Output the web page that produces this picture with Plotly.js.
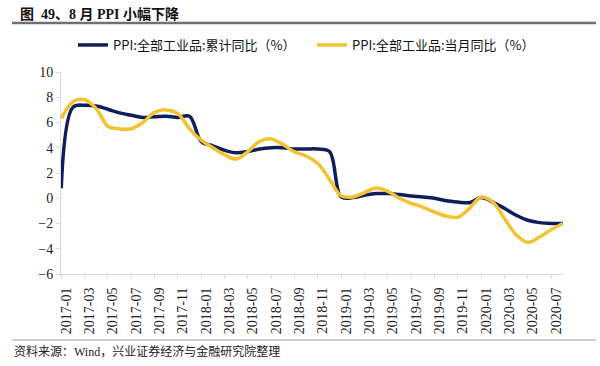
<!DOCTYPE html>
<html>
<head>
<meta charset="utf-8">
<script src="https://cdn.plot.ly/plotly-3.0.1.min.js"></script>
<style>
html,body{margin:0;padding:0;background:#fff;}
#chart{width:600px;height:366px;}
</style>
</head>
<body>
<div id="chart"></div>
<script>
// Months (categories)
const months = [
  "2017-01","2017-02","2017-03","2017-04","2017-05","2017-06","2017-07","2017-08","2017-09","2017-10","2017-11","2017-12",
  "2018-01","2018-02","2018-03","2018-04","2018-05","2018-06","2018-07","2018-08","2018-09","2018-10","2018-11","2018-12",
  "2019-01","2019-02","2019-03","2019-04","2019-05","2019-06","2019-07","2019-08","2019-09","2019-10","2019-11","2019-12",
  "2020-01","2020-02","2020-03","2020-04","2020-05","2020-06","2020-07","2020-08"
];
// PPI: all industrial products, cumulative YoY (%)
const ppiCumulative = [
  0.8, 7.2, 7.37, 7.3, 7.05, 6.76, 6.57, 6.4, 6.45, 6.5, 6.4, 6.5,
  4.5, 4.15, 3.8, 3.6, 3.7, 3.9, 4.0, 4.0, 3.9, 3.9, 3.9, 3.7,
  0.1, 0.05, 0.24, 0.37, 0.37, 0.29, 0.18, 0.1, 0.0, -0.2, -0.3, -0.35,
  0.05, -0.3, -0.8, -1.35, -1.74, -1.93, -2.0, -2.0
];
// PPI: all industrial products, monthly YoY (%)
const ppiMonthly = [
  6.3, 7.65, 7.8, 7.1, 5.7, 5.5, 5.5, 6.0, 6.8, 7.0, 6.7, 5.5,
  4.6, 4.0, 3.45, 3.1, 3.7, 4.5, 4.7, 4.25, 3.67, 3.35, 2.75, 1.5,
  0.2, 0.1, 0.45, 0.82, 0.55, 0.0, -0.4, -0.7, -1.1, -1.4, -1.5, -0.8,
  0.1, -0.3, -1.6, -2.9, -3.5, -3.07, -2.5, -2.0
];
// Tick labels shown on the x axis
const tickLabels = [
  "2017-01","2017-03","2017-05","2017-07","2017-09","2017-11",
  "2018-01","2018-03","2018-05","2018-07","2018-09","2018-11",
  "2019-01","2019-03","2019-05","2019-07","2019-09","2019-11",
  "2020-01","2020-03","2020-05","2020-07"
];
const seriesNames = ["PPI:全部工业品:累计同比（%）", "PPI:全部工业品:当月同比（%）"];
const titleText = "图  49、8 月 PPI 小幅下降";
const sourceText = "资料来源：Wind，兴业证券经济与金融研究院整理";

const serif = "Liberation Serif, Times New Roman, Noto Sans CJK SC, serif";
const cjk = "Noto Sans CJK SC, sans-serif";

const traces = [
  {x: months, y: ppiCumulative, name: seriesNames[0], type: "scatter", mode: "lines",
   line: {color: "#0e1e5b", width: 3.5, shape: "spline", smoothing: 1}},
  {x: months, y: ppiMonthly, name: seriesNames[1], type: "scatter", mode: "lines",
   line: {color: "#f2c232", width: 3.5, shape: "spline", smoothing: 1}}
];

const L = 61, W = 502, B = 274, H = 202;
const px = v => (v - L) / W;
const py = v => (B - v) / H;

const layout = {
  width: 600, height: 366,
  margin: {l: 61, r: 37, t: 72, b: 92, pad: 0},
  paper_bgcolor: "#fff", plot_bgcolor: "#fff",
  showlegend: true,
  title: {text: "<b>" + titleText + "</b>", x: 20/600, xref: "container", xanchor: "left",
          y: 1 - 14/366, yref: "container", yanchor: "middle",
          font: {family: serif, size: 14, color: "#111"}},
  legend: {orientation: "h", x: px(73), xanchor: "left", y: py(45), yanchor: "middle",
           font: {family: cjk, size: 13, color: "#111"}, itemwidth: 30,
           entrywidth: 194, entrywidthmode: "pixels", bgcolor: "rgba(0,0,0,0)", traceorder: "normal"},
  xaxis: {type: "category", range: [-0.02, 43.02], tickmode: "array", tickvals: tickLabels, ticktext: tickLabels,
          tickangle: -90, showgrid: false, zeroline: false, showline: true, linecolor: "#d9d9d9", linewidth: 1,
          ticks: "outside", ticklen: 4, tickcolor: "#d9d9d9", ticklabelshift: 5, ticklabelstandoff: 3,
          tickfont: {family: serif, size: 14, color: "#222"}, automargin: false},
  yaxis: {range: [-6, 10], dtick: 2, tick0: 0, showgrid: false, zeroline: false, showline: true,
          linecolor: "#d9d9d9", linewidth: 1, ticks: "outside", ticklen: 4, tickcolor: "#d9d9d9",
          tickfont: {family: serif, size: 14, color: "#222"}, automargin: false},
  shapes: [
    {type: "line", xref: "paper", yref: "paper", x0: px(12), x1: px(596), y0: py(23), y1: py(23),
     line: {color: "#6f6f78", width: 2.5}},
    {type: "line", xref: "paper", yref: "paper", x0: px(12), x1: px(596), y0: py(340), y1: py(340),
     line: {color: "#9a9a9a", width: 1.2}}
  ],
  annotations: [
    {text: sourceText, xref: "paper", yref: "paper", x: px(12), y: py(351), xanchor: "left", yanchor: "middle",
     showarrow: false, font: {family: serif, size: 12, color: "#222"}}
  ]
};

Plotly.newPlot("chart", traces, layout, {displayModeBar: false, staticPlot: true});
</script>
</body>
</html>
